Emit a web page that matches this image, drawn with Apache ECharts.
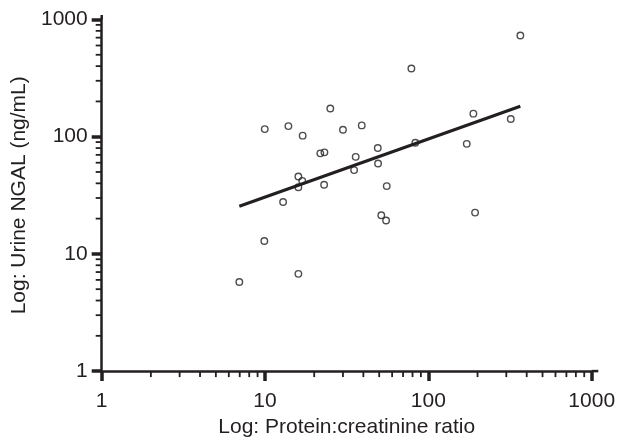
<!DOCTYPE html>
<html>
<head>
<meta charset="utf-8">
<script src="https://cdn.jsdelivr.net/npm/echarts@6.0.0/dist/echarts.min.js"></script>
<style>
  html, body { margin: 0; padding: 0; background: #fff; }
  #main { width: 624px; height: 443px; }
</style>
</head>
<body>
<div id="main"></div>
<script>
// protein:creatinine ratio (x) vs urine NGAL ng/mL (y)
var pcr = [365.7, 78.7, 25.1, 9.96, 13.9, 17.0, 30.0, 39.1, 188.6, 319.5,
  21.8, 23.1, 49.0, 35.9, 83.2, 171.8, 49.2, 35.1, 16.0, 16.9,
  16.0, 23.0, 55.6, 12.9, 51.5, 55.1, 193.2, 16.0, 9.9, 6.96];
var ngal = [731, 382, 174.2, 116.1, 123.1, 102.1, 114.6, 124.8, 157.3, 141.7,
  72.1, 73.5, 80.0, 67.3, 88.7, 86.9, 59.1, 51.9, 45.7, 42.0,
  37.0, 38.9, 37.9, 27.7, 21.4, 19.3, 22.5, 6.76, 12.9, 5.75];

// regression line ends
var fitX = [6.96, 365.7];
var fitY = [25.5, 181.8];

var majorTicks = [1, 10, 100, 1000];
var minorTicks = [2, 3, 4, 5, 6, 7, 8, 9, 20, 30, 40, 50, 60, 70, 80, 90,
  200, 300, 400, 500, 600, 700, 800, 900];

var ink = "#231f20";
var font = "'Liberation Sans', Arial, Helvetica, sans-serif";

var points = pcr.map(function (x, i) { return [x, ngal[i]]; });
var fitLine = fitX.map(function (x, i) { return [x, fitY[i]]; });

var dom = document.getElementById("main");
var chart = echarts.init(dom);

var option = {
  animation: false,
  backgroundColor: "#fff",
  grid: {
    left: 101.7,
    right: 32.3,
    top: 19.5,
    bottom: 65.7
  },
  xAxis: {
    type: "log",
    logBase: 10,
    min: 1,
    max: 1000,
    name: "Log: Protein:creatinine ratio",
    nameLocation: "middle",
    nameGap: 40,
    nameTextStyle: { color: ink, fontSize: 21, fontFamily: font },
    axisLine: { lineStyle: { color: ink, width: 2.5 } },
    axisTick: { length: 10, lineStyle: { color: ink, width: 3.5 } },
    axisLabel: {
      color: ink,
      fontSize: 21,
      fontFamily: font,
      margin: 20,
      formatter: function (v) { return String(Math.round(v)); }
    },
    splitLine: { show: false }
  },
  yAxis: {
    type: "log",
    logBase: 10,
    min: 1,
    max: 1000,
    name: "Log: Urine NGAL (ng/mL)",
    nameLocation: "middle",
    nameGap: 60,
    nameTextStyle: { color: ink, fontSize: 21, fontFamily: font },
    axisLine: { lineStyle: { color: ink, width: 2.5 } },
    axisTick: { length: 10, lineStyle: { color: ink, width: 3.5 } },
    axisLabel: {
      color: ink,
      fontSize: 21,
      fontFamily: font,
      margin: 14,
      formatter: function (v) { return String(Math.round(v)); }
    },
    splitLine: { show: false }
  },
  series: [
    {
      type: "line",
      data: fitLine,
      symbol: "none",
      lineStyle: { color: ink, width: 3 },
      z: 2
    },
    {
      type: "scatter",
      data: points,
      symbol: "circle",
      symbolSize: 6.5,
      itemStyle: { color: "rgba(255,255,255,0)", borderColor: ink, borderWidth: 1.4 },
      z: 3
    }
  ]
};

chart.setOption(option);

// minor log ticks + the little overhang of both axis lines
function drawExtras() {
  var els = [];
  var x0 = chart.convertToPixel({ xAxisIndex: 0 }, 1);
  var y0 = chart.convertToPixel({ yAxisIndex: 0 }, 1);
  var xEnd = chart.convertToPixel({ xAxisIndex: 0 }, 1000);
  var yEnd = chart.convertToPixel({ yAxisIndex: 0 }, 1000);
  minorTicks.forEach(function (v) {
    var px = chart.convertToPixel({ xAxisIndex: 0 }, v);
    els.push({
      type: "line",
      shape: { x1: px, y1: y0, x2: px, y2: y0 + 6 },
      style: { stroke: ink, lineWidth: 1.8 }
    });
    var py = chart.convertToPixel({ yAxisIndex: 0 }, v);
    els.push({
      type: "line",
      shape: { x1: x0, y1: py, x2: x0 - 6, y2: py },
      style: { stroke: ink, lineWidth: 1.8 }
    });
  });
  els.push({
    type: "line",
    shape: { x1: xEnd, y1: y0, x2: xEnd + 6.6, y2: y0 },
    style: { stroke: ink, lineWidth: 2.5 }
  });
  els.push({
    type: "line",
    shape: { x1: x0, y1: yEnd, x2: x0, y2: yEnd - 4.5 },
    style: { stroke: ink, lineWidth: 2.5 }
  });
  chart.setOption({ graphic: els });
}
drawExtras();

window.addEventListener("resize", function () {
  chart.resize();
  drawExtras();
});
</script>
</body>
</html>
